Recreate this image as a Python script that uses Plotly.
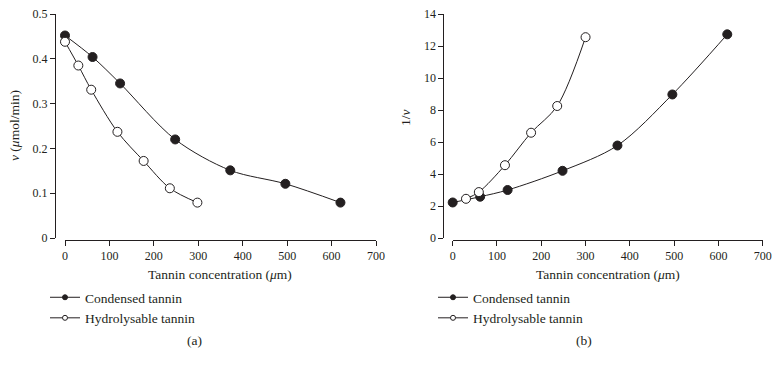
import plotly.graph_objects as go

# ---- data ----
cond_x = [0, 62, 124, 248, 372, 496, 620]
cond_v = [0.452, 0.404, 0.345, 0.220, 0.151, 0.121, 0.079]
hyd_x = [0, 30, 59, 118, 177, 236, 298]
hyd_v = [0.438, 0.385, 0.331, 0.237, 0.172, 0.111, 0.079]

cond_inv_x = [0, 62, 124, 248, 372, 496, 620]
cond_inv = [2.22, 2.58, 3.0, 4.2, 5.78, 8.97, 12.73]
hyd_inv_x = [30, 59, 118, 177, 236, 300]
hyd_inv = [2.45, 2.87, 4.55, 6.58, 8.25, 12.55]

x_ticks = [0, 100, 200, 300, 400, 500, 600, 700]
v_ticks = [0, 0.1, 0.2, 0.3, 0.4, 0.5]
inv_ticks = [0, 2, 4, 6, 8, 10, 12, 14]

INK = "#231f20"
FONT = "Liberation Serif"
TXT = 13.5
OFF = 8  # default page body margin
W, H = 780 - OFF, 367 - OFF

def px(x):
    return (x - OFF) / W

def py(y):
    return 1 - (y - OFF) / H

fig = go.Figure()

def add_series(x, y, xa, ya, filled):
    fig.add_trace(go.Scatter(
        x=x, y=y, xaxis=xa, yaxis=ya, mode="lines+markers", cliponaxis=False,
        line=dict(color=INK, width=1, shape="spline", smoothing=0.9),
        marker=dict(size=9, color=INK if filled else "white",
                    line=dict(color=INK, width=1)),
        showlegend=False, hoverinfo="x+y"))

# left panel (hydrolysable drawn on top)
add_series(cond_x, cond_v, "x", "y", True)
add_series(hyd_x, hyd_v, "x", "y", False)
# right panel
add_series(cond_inv_x, cond_inv, "x2", "y2", True)
add_series(hyd_inv_x, hyd_inv, "x2", "y2", False)

# legend entries
for lg in ["legend", "legend2"]:
    for name, filled in [("Condensed tannin", True), ("Hydrolysable tannin", False)]:
        fig.add_trace(go.Scatter(
            x=[None], y=[None], mode="lines+markers", name=name, legend=lg,
            xaxis="x" if lg == "legend" else "x2",
            yaxis="y" if lg == "legend" else "y2",
            line=dict(color=INK, width=1),
            marker=dict(size=5, color=INK if filled else "white",
                        line=dict(color=INK, width=1))))

axis_common = dict(showgrid=False, zeroline=False, showline=True, linecolor=INK,
                   linewidth=1, ticks="outside", ticklen=5, tickcolor=INK,
                   tickwidth=1, automargin=False, ticklabeloverflow="allow",
                   tickfont=dict(family=FONT, size=12, color=INK))

ytop, ybot = py(14), py(238)
xaxis_pos = py(240)

legend_common = dict(xanchor="left", yanchor="top", bgcolor="rgba(0,0,0,0)",
                     font=dict(family=FONT, size=TXT, color=INK),
                     tracegroupgap=0, itemwidth=30)

fig.update_layout(
    template="none",
    width=W, height=H, margin=dict(l=0, r=0, t=0, b=0, autoexpand=False),
    paper_bgcolor="white", plot_bgcolor="white",
    font=dict(family=FONT, color=INK, size=TXT),
    xaxis=dict(domain=[px(65), px(376)], range=[0, 700], tickvals=x_ticks,
               anchor="free", position=xaxis_pos, **axis_common),
    yaxis=dict(domain=[ybot, ytop], range=[0, 0.5], tickvals=v_ticks,
               anchor="free", position=px(55), **axis_common),
    xaxis2=dict(domain=[px(452.7), px(762.7)], range=[0, 700], tickvals=x_ticks,
                anchor="free", position=xaxis_pos, **axis_common),
    yaxis2=dict(domain=[ybot, ytop], range=[0, 14], tickvals=inv_ticks,
                anchor="free", position=px(443.3), **axis_common),
    legend=dict(x=px(45), y=py(282), **legend_common),
    legend2=dict(x=px(433), y=py(282), **legend_common),
    showlegend=True,
)

ann = [
    dict(text="Tannin concentration (<i>μ</i>m)", x=px(220), y=py(274)),
    dict(text="Tannin concentration (<i>μ</i>m)", x=px(608), y=py(274)),
    dict(text="(a)", x=px(194), y=py(340)),
    dict(text="(b)", x=px(584), y=py(340)),
    dict(text="<i>v</i> (<i>μ</i>mol/min)", x=px(15), y=py(126), textangle=-90),
    dict(text="1/<i>v</i>", x=px(405), y=py(118), textangle=-90),
]
for a in ann:
    fig.add_annotation(xref="paper", yref="paper", showarrow=False,
                       xanchor="center", yanchor="middle",
                       font=dict(family=FONT, size=TXT, color=INK), **a)

fig.write_html("out.html")
